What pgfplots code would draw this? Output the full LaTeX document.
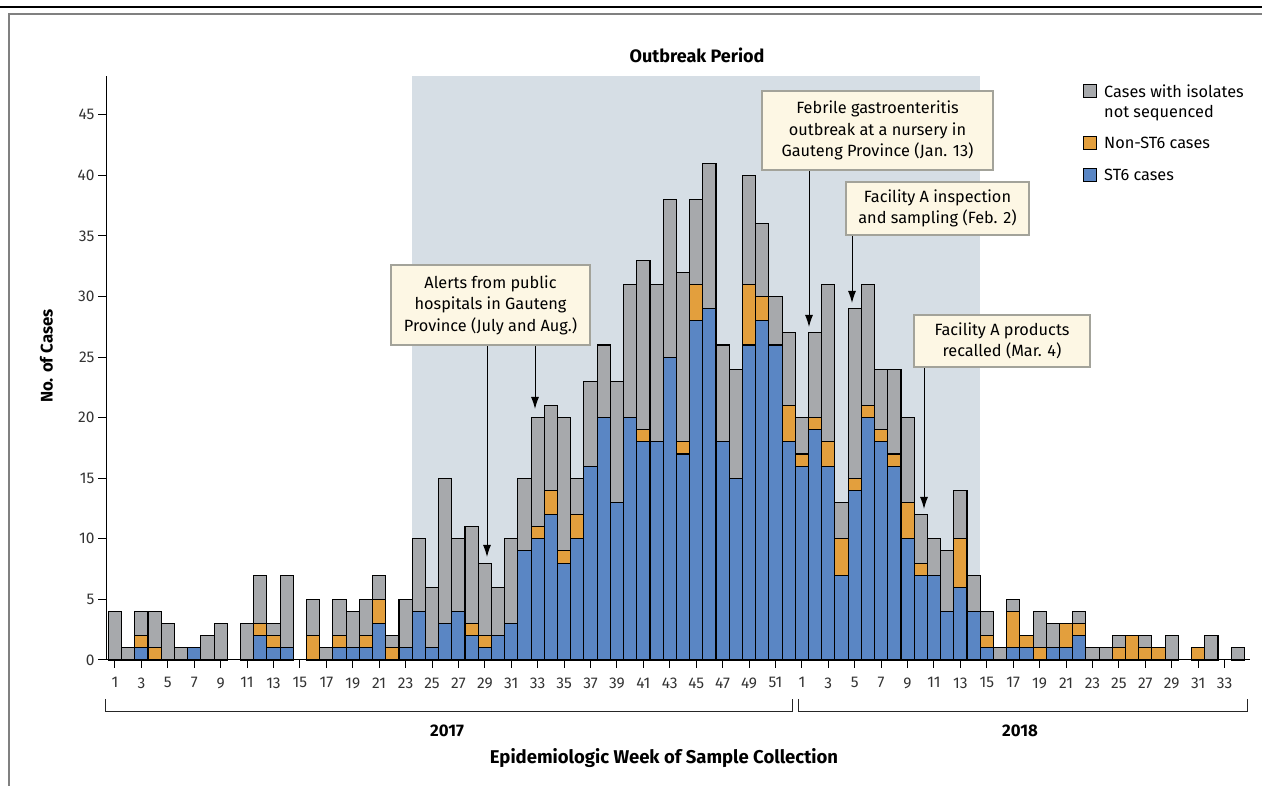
\documentclass[border=0pt]{standalone}
\usepackage{pgfplots}
\pgfplotsset{compat=1.18}
\usepackage{pgfplotstable}
\usepackage{fontspec}
\setmainfont{Fira Sans}
\usetikzlibrary{arrows.meta}
\definecolor{cGray}{HTML}{A7A9AC}
\definecolor{cOrange}{HTML}{E39F3D}
\definecolor{cBlue}{HTML}{5A86C4}
\definecolor{cShade}{HTML}{D6DEE5}
\definecolor{cBox}{HTML}{FDF7E4}
\definecolor{cBoxLine}{HTML}{A3A39A}
\definecolor{cTick}{HTML}{333333}

% idx B=ST6, O=non-ST6, G=not sequenced
\pgfplotstableread{
idx B O G
1 0 0 4
2 0 0 1
3 1 1 2
4 0 1 3
5 0 0 3
6 0 0 1
7 1 0 0
8 0 0 2
9 0 0 3
10 0 0 0
11 0 0 3
12 2 1 4
13 1 1 1
14 1 0 6
15 0 0 0
16 0 2 3
17 0 0 1
18 1 1 3
19 1 0 3
20 1 1 3
21 3 2 2
22 0 1 1
23 1 0 4
24 4 0 6
25 1 0 5
26 3 0 12
27 4 0 6
28 2 1 8
29 1 1 6
30 2 0 4
31 3 0 7
32 9 0 6
33 10 1 9
34 12 2 7
35 8 1 11
36 10 2 3
37 16 0 7
38 20 0 6
39 13 0 10
40 20 0 11
41 18 1 14
42 18 0 13
43 25 0 13
44 17 1 14
45 28 3 7
46 29 0 12
47 18 0 8
48 15 0 9
49 26 5 9
50 28 2 6
51 26 0 4
52 18 3 6
53 16 1 3
54 19 1 7
55 16 2 13
56 7 3 3
57 14 1 14
58 20 1 10
59 18 1 5
60 16 1 7
61 10 3 7
62 7 1 4
63 7 0 3
64 4 0 5
65 6 4 4
66 4 0 3
67 1 1 2
68 0 0 1
69 1 3 1
70 1 1 0
71 0 1 3
72 1 0 2
73 1 2 0
74 2 1 1
75 0 0 1
76 0 0 1
77 0 1 1
78 0 2 0
79 0 1 1
80 0 1 0
81 0 0 2
82 0 0 0
83 0 1 0
84 0 0 2
85 0 0 0
86 0 0 1
}\datatable

\newcommand{\tickfont}{\fontsize{15.5}{19}\selectfont}
\newcommand{\annfont}{\fontsize{16.3}{21.5}\selectfont}
\newcommand{\labfont}{\fontsize{16.8}{20}\selectfont\bfseries}
\newcommand{\titfont}{\fontsize{18}{21}\selectfont\bfseries}
\newcommand{\xlabfont}{\fontsize{18.5}{22}\selectfont\bfseries}

\begin{document}
\begin{tikzpicture}[x=1pt,y=1pt]
\useasboundingbox (0,0) rectangle (1262,786);
% frame
\draw[line width=1.3pt, black] (0,779) -- (1262,779);
\draw[line width=2pt, black!50] (9,0) -- (9,772) -- (1262,772);
% outbreak period shading (week 24 of 2017 to week 14 of 2018)
\fill[cShade] (412.2,126) rectangle (980.2,710);

\begin{axis}[
  at={(106pt,126pt)}, anchor=south west,
  scale only axis, width=1143.7pt, height=584pt,
  xmin=0.32, xmax=86.9, ymin=0, ymax=48.2,
  ybar stacked, bar width=13.21pt,
  axis x line=bottom, axis y line=left,
  axis line style={-, line width=1pt, black},
  xtick={1,3,...,85},
  xticklabels={1,3,5,7,9,11,13,15,17,19,21,23,25,27,29,31,33,35,37,39,41,43,45,47,49,51,1,3,5,7,9,11,13,15,17,19,21,23,25,27,29,31,33},
  ytick={0,5,...,45},
  tick align=outside, major tick length=8pt,
  tick style={line width=1pt, black},
  ticklabel style={font=\tickfont, text=cTick},
  xticklabel style={yshift=-6pt},
  /pgf/number format/assume math mode=true,
  clip=false,
]
\addplot+[fill=cBlue, draw=black, line width=1.1pt, mark=none] table[x=idx,y=B]{\datatable};
\addplot+[fill=cOrange, draw=black, line width=1.1pt, mark=none] table[x=idx,y=O]{\datatable};
\addplot+[fill=cGray, draw=black, line width=1.1pt, mark=none] table[x=idx,y=G]{\datatable};
\end{axis}

% titles and labels
\node[font=\titfont] at (697,731) {Outbreak Period};
\node[font=\labfont, rotate=90] at (46.5,430) {No. of Cases};
\node[font=\labfont] at (447,55) {2017};
\node[font=\labfont] at (1020,55) {2018};
\node[font=\xlabfont] at (664,28) {Epidemiologic Week of Sample Collection};

% brackets
\draw[line width=1pt, black!85] (105,87) -- (105,74) -- (792,74) -- (792,87);
\draw[line width=1pt, black!85] (798,87) -- (798,74) -- (1247,74) -- (1247,87);

% annotations
\tikzset{ann/.style={draw=cBoxLine, fill=cBox, line width=1.5pt, align=center, font=\annfont, inner sep=0pt},
         arr/.style={line width=1pt, -{Latex[length=12pt,width=8pt]}}}
\draw[arr] (487,441) -- (487,229);
\draw[arr] (535,441) -- (535,377);
\draw[arr] (809,616) -- (809,459);
\draw[arr] (852,551) -- (852,483);
\draw[arr] (924,419) -- (924,277);
\node[ann, minimum width=199pt, minimum height=80pt] at (490.5,481) {Alerts from public\\hospitals in Gauteng\\Province (July and Aug.)};
\node[ann, minimum width=231pt, minimum height=79pt] at (877.5,655.5) {Febrile gastroenteritis\\outbreak at a nursery in\\Gauteng Province (Jan. 13)};
\node[ann, minimum width=183pt, minimum height=53pt] at (937.5,577.5) {Facility A inspection\\and sampling (Feb. 2)};
\node[ann, minimum width=176pt, minimum height=52pt] at (1002,445) {Facility A products\\recalled (Mar. 4)};

% legend
\draw[fill=cGray, line width=1pt] (1083,688.5) rectangle (1096,701.5);
\draw[fill=cOrange, line width=1pt] (1083,636.5) rectangle (1096,649.5);
\draw[fill=cBlue, line width=1pt] (1083,604.5) rectangle (1096,617.5);
\node[font=\annfont, anchor=west, inner sep=0pt] at (1104,695) {Cases with isolates};
\node[font=\annfont, anchor=west, inner sep=0pt] at (1104,673) {not sequenced};
\node[font=\annfont, anchor=west, inner sep=0pt] at (1104,643) {Non-ST6 cases};
\node[font=\annfont, anchor=west, inner sep=0pt] at (1104,611) {ST6 cases};
\end{tikzpicture}
\end{document}
